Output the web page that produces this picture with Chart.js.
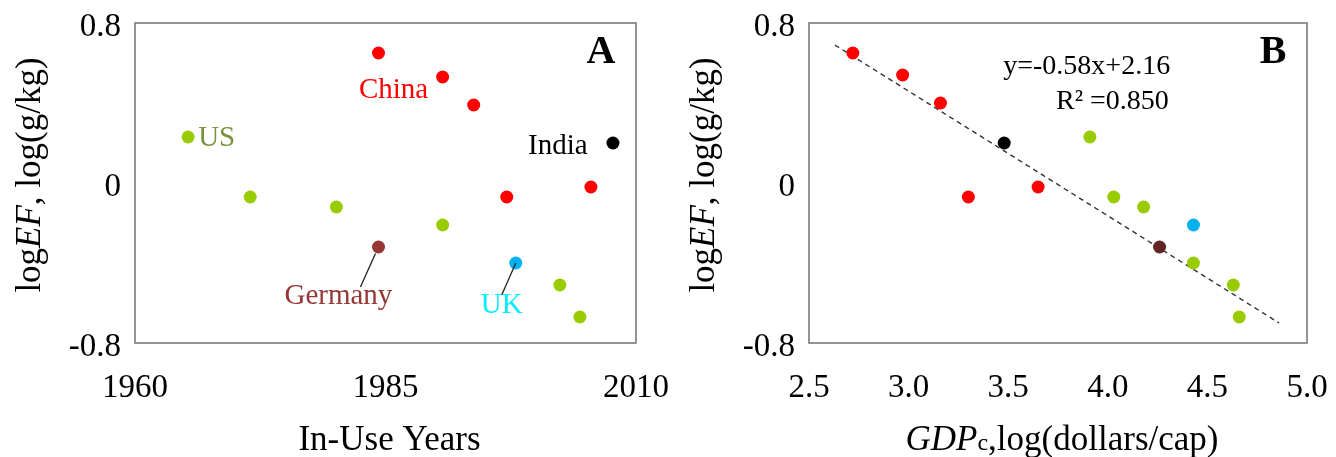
<!DOCTYPE html>
<html><head><meta charset="utf-8">
<script src="https://cdn.jsdelivr.net/npm/chart.js@4"></script>
<style>
html,body{margin:0;padding:0;background:#fff;}
#wrap{position:relative;width:1336px;height:457px;overflow:hidden;}
.panel{position:absolute;top:0;width:668px;height:457px;}
</style></head><body>
<div id="wrap">
<div class="panel" style="left:0"><canvas id="cA" width="668" height="457"></canvas></div>
<div class="panel" style="left:668px"><canvas id="cB" width="668" height="457"></canvas></div>
</div>
<script>
// ---- tick labels ----
const yearTicks = [1960, 1985, 2010];
const efTicks = [-0.8, 0, 0.8];
const gdpTicks = [2.5, 3.0, 3.5, 4.0, 4.5, 5.0];

// ---- Panel A: in-use year vs logEF ----
const usYears = [1965.3, 1971.5, 1980.1, 1990.7, 2002.4, 2004.4];
const usEF_A = [0.23, -0.07, -0.12, -0.21, -0.51, -0.67];
const chinaYears = [1984.3, 1990.7, 1993.8, 1997.1, 2005.5];
const chinaEF_A = [0.65, 0.53, 0.39, -0.07, -0.02];
const indiaYears = [2007.7];
const indiaEF_A = [0.20];
const germanyYears = [1984.3];
const germanyEF_A = [-0.32];
const ukYears = [1998.0];
const ukEF_A = [-0.40];

// ---- Panel B: logGDPc vs logEF ----
const chinaGDP = [2.72, 2.97, 3.16, 3.30, 3.65];
const chinaEF_B = [0.65, 0.54, 0.40, -0.07, -0.02];
const indiaGDP = [3.48];
const indiaEF_B = [0.20];
const usGDP = [3.91, 4.03, 4.18, 4.43, 4.63, 4.66];
const usEF_B = [0.23, -0.07, -0.12, -0.40, -0.51, -0.67];
const ukGDP = [4.43];
const ukEF_B = [-0.21];
const germanyGDP = [4.26];
const germanyEF_B = [-0.32];
const trendGDP = [2.63, 4.86];
const trendEF = [0.69, -0.70];

// ---- styling ----
const SERIF = "'Liberation Serif', 'Times New Roman', serif";
const C = {green:'#99CC00', red:'#FF0000', black:'#000000', brownA:'#953735', brownB:'#632523', blue:'#00B0F0'};

function pts(xs, ys){ return xs.map((x,i)=>({x:x, y:ys[i]})); }
function dot(data, color){
  return {data:data, backgroundColor:color, borderWidth:0, pointRadius:6.5, pointHoverRadius:6.5, showLine:false, order:1};
}

// annotation specs (label anchors in data units)
const notesA = [
  {text:'US', x:1966.3, y:0.225, align:'left', color:'#77933C', size:29},
  {text:'China', x:1985.8, y:0.464, align:'center', color:'#FF0000', size:29},
  {text:'India', x:2002.2, y:0.183, align:'center', color:'#000000', size:29},
  {text:'Germany', x:1980.3, y:-0.567, align:'center', color:'#953735', size:29},
  {text:'UK', x:1996.6, y:-0.61, align:'center', color:'#00EEFF', size:29},
  {text:'A', x:2006.5, y:0.652, align:'center', color:'#000000', size:40, weight:'bold'}
];
const leadersA = [
  {x1:1984.0, y1:-0.352, x2:1982.5, y2:-0.52},
  {x1:1998.0, y1:-0.40, x2:1996.6, y2:-0.56}
];
const notesB = [
  {text:'y=-0.58x+2.16', x:3.894, y:0.58, align:'center', color:'#000000', size:28},
  {text:'R\u00B2 =0.850', x:4.023, y:0.405, align:'center', color:'#000000', size:28},
  {text:'B', x:4.83, y:0.652, align:'center', color:'#000000', size:40, weight:'bold'}
];

const framePlugin = {
  id:'frame',
  beforeDatasetsDraw(chart){
    const a = chart.chartArea, ctx = chart.ctx;
    ctx.save();
    ctx.strokeStyle = '#7a7a7a';
    ctx.lineWidth = 1.6;
    ctx.strokeRect(a.left, a.top, a.right - a.left, a.bottom - a.top);
    ctx.restore();
  }
};

function drawRuns(ctx, runs, x, y, rotate){
  // runs: [{t, font, dy}]
  ctx.save();
  ctx.translate(x, y);
  if (rotate) ctx.rotate(-Math.PI/2);
  let total = 0;
  runs.forEach(r => { ctx.font = r.font; r.w = ctx.measureText(r.t).width; total += r.w; });
  let cx = -total/2;
  ctx.textBaseline = 'alphabetic';
  ctx.fillStyle = '#000';
  runs.forEach(r => { ctx.font = r.font; ctx.fillText(r.t, cx, (r.dy||0)); cx += r.w; });
  ctx.restore();
}

function makeTextPlugin(notes, leaders, xTitleRuns){
  return {
    id:'texts',
    afterDatasetsDraw(chart){
      const ctx = chart.ctx, xs = chart.scales.x, ys = chart.scales.y, a = chart.chartArea;
      ctx.save();
      (leaders||[]).forEach(l => {
        ctx.beginPath();
        ctx.strokeStyle = '#222';
        ctx.lineWidth = 1.3;
        ctx.moveTo(xs.getPixelForValue(l.x1), ys.getPixelForValue(l.y1));
        ctx.lineTo(xs.getPixelForValue(l.x2), ys.getPixelForValue(l.y2));
        ctx.stroke();
      });
      notes.forEach(n => {
        ctx.font = (n.weight||'normal') + ' ' + n.size + 'px ' + SERIF;
        ctx.fillStyle = n.color;
        ctx.textAlign = n.align;
        ctx.textBaseline = 'middle';
        ctx.fillText(n.text, xs.getPixelForValue(n.x), ys.getPixelForValue(n.y));
      });
      ctx.restore();
      // y axis title
      const yRuns = [
        {t:'log', font:'35px ' + SERIF},
        {t:'EF', font:'italic 35px ' + SERIF},
        {t:', log(g/kg)', font:'35px ' + SERIF}
      ];
      drawRuns(ctx, yRuns, a.left - 95, 175, true);
      drawRuns(ctx, xTitleRuns, (a.left + a.right)/2 + 4, 450, false);
    }
  };
}

function baseOptions(xMin, xMax, xTicks, yWidth, padRight, xFmt){
  return {
    responsive:false, animation:false, events:[],
    layout:{padding:{left:0, right:padRight, top:23, bottom:0}},
    plugins:{legend:{display:false}, tooltip:{enabled:false}},
    scales:{
      x:{type:'linear', min:xMin, max:xMax,
        grid:{display:false, drawTicks:false}, border:{display:false},
        afterBuildTicks(s){ s.ticks = xTicks.map(v => ({value:v})); },
        afterFit(s){ s.height = 114; s.paddingLeft = 0; s.paddingRight = 0; },
        ticks:{color:'#000', font:{family:SERIF, size:33}, padding:26, maxRotation:0, autoSkip:false, callback:xFmt}
      },
      y:{type:'linear', min:-0.8, max:0.8,
        grid:{display:false, drawTicks:false}, border:{display:false},
        afterBuildTicks(s){ s.ticks = efTicks.map(v => ({value:v})); },
        afterFit(s){ s.width = yWidth; s.paddingTop = 0; s.paddingBottom = 0; },
        ticks:{color:'#000', font:{family:SERIF, size:33}, padding:14, labelOffset:4, autoSkip:false,
          callback:v => (Math.abs(v) < 1e-9 ? '0' : v.toFixed(1))}
      }
    }
  };
}

// ---- Chart A ----
new Chart(document.getElementById('cA'), {
  type:'scatter',
  data:{datasets:[
    dot(pts(usYears, usEF_A), C.green),
    dot(pts(chinaYears, chinaEF_A), C.red),
    dot(pts(indiaYears, indiaEF_A), C.black),
    dot(pts(germanyYears, germanyEF_A), C.brownA),
    dot(pts(ukYears, ukEF_A), C.blue)
  ]},
  options: baseOptions(1960, 2010, yearTicks, 135, 32, v => String(v)),
  plugins:[framePlugin, makeTextPlugin(notesA, leadersA, [{t:'In-Use Years', font:'35px ' + SERIF}])]
});

// ---- Chart B ----
new Chart(document.getElementById('cB'), {
  type:'scatter',
  data:{datasets:[
    {data:pts(trendGDP, trendEF), showLine:true, borderColor:'#333', borderWidth:1.4, borderDash:[5,4],
     pointRadius:0, pointHoverRadius:0, fill:false, order:10},
    dot(pts(chinaGDP, chinaEF_B), C.red),
    dot(pts(indiaGDP, indiaEF_B), C.black),
    dot(pts(usGDP, usEF_B), C.green),
    dot(pts(ukGDP, ukEF_B), C.blue),
    dot(pts(germanyGDP, germanyEF_B), C.brownB)
  ]},
  options: baseOptions(2.5, 5.0, gdpTicks, 141, 29, v => v.toFixed(1)),
  plugins:[framePlugin, makeTextPlugin(notesB, null, [
    {t:'GDP', font:'italic 35px ' + SERIF},
    {t:'c', font:'24px ' + SERIF},
    {t:',log(dollars/cap)', font:'35px ' + SERIF}
  ])]
});
</script>
</body></html>
